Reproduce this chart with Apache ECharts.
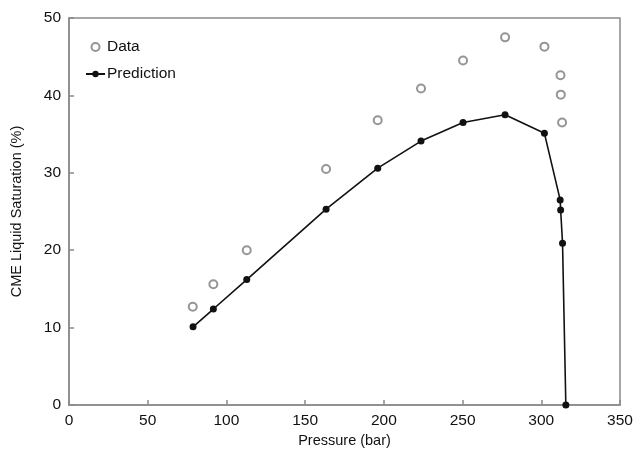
<!DOCTYPE html>
<html>
<head>
<meta charset="utf-8">
<script src="https://cdn.jsdelivr.net/npm/echarts@6/dist/echarts.min.js"></script>
<style>
  html, body { margin: 0; padding: 0; background: #fff; }
  #chart { width: 636px; height: 462px; }
</style>
</head>
<body>
<div id="chart"></div>
<script>
// measured points (pressure in bar, saturation in %)
const dataPressure = [78.6, 91.7, 112.9, 163.3, 196.1, 223.6, 250.3, 277.0, 302.0, 312.2, 312.4, 313.2];
const dataSaturation = [12.7, 15.6, 20.0, 30.5, 36.8, 40.9, 44.5, 47.5, 46.3, 42.6, 40.1, 36.5];

// model prediction
const predPressure = [78.8, 91.7, 112.9, 163.3, 196.1, 223.6, 250.3, 277.0, 302.0, 312.0, 312.3, 313.5, 315.6];
const predSaturation = [10.1, 12.4, 16.2, 25.3, 30.6, 34.1, 36.5, 37.5, 35.1, 26.5, 25.2, 20.9, 0];

const FONT = '"Liberation Sans", Arial, sans-serif';
const AXIS_GRAY = '#8a8a8a';

const zip = (xs, ys) => xs.map((x, i) => [x, ys[i]]);

const chart = echarts.init(document.getElementById('chart'), null, { renderer: 'canvas' });

function axisBase() {
  return {
    type: 'value',
    axisLine: { show: true, onZero: false, lineStyle: { color: AXIS_GRAY, width: 1.5 } },
    axisTick: { show: true, inside: true, length: 5, lineStyle: { color: AXIS_GRAY, width: 1.5 } },
    splitLine: { show: false },
    axisLabel: { color: '#111', fontSize: 15.5, fontFamily: FONT, margin: 8 },
    nameLocation: 'middle',
    nameTextStyle: { color: '#111', fontSize: 14.5, fontFamily: FONT }
  };
}

chart.setOption({
  backgroundColor: '#fff',
  animation: false,
  grid: {
    left: 69, right: 16, top: 18, bottom: 57,
    show: true, borderColor: AXIS_GRAY, borderWidth: 1.5, backgroundColor: 'transparent'
  },
  legend: {
    orient: 'vertical', left: 80, top: 34,
    itemWidth: 19, itemHeight: 8, itemGap: 11,
    textStyle: { color: '#111', fontSize: 15.5, fontFamily: FONT, padding: [0, 0, 0, -3] },
    data: ['Data', 'Prediction']
  },
  xAxis: {
    ...axisBase(),
    min: 0, max: 350, interval: 50,
    name: 'Pressure (bar)', nameGap: 26
  },
  yAxis: {
    ...axisBase(),
    min: 0, max: 50, interval: 10,
    name: 'CME Liquid Saturation (%)', nameGap: 45
  },
  series: [
    {
      name: 'Data', type: 'scatter',
      data: zip(dataPressure, dataSaturation),
      symbol: 'emptyCircle', symbolSize: 8,
      itemStyle: { color: '#7a7a7a', borderWidth: 1.8 }
    },
    {
      name: 'Prediction', type: 'line',
      data: zip(predPressure, predSaturation),
      symbol: 'circle', symbolSize: 7, showSymbol: true,
      lineStyle: { color: '#111', width: 1.6 },
      itemStyle: { color: '#111' }
    }
  ]
});
</script>
</body>
</html>
